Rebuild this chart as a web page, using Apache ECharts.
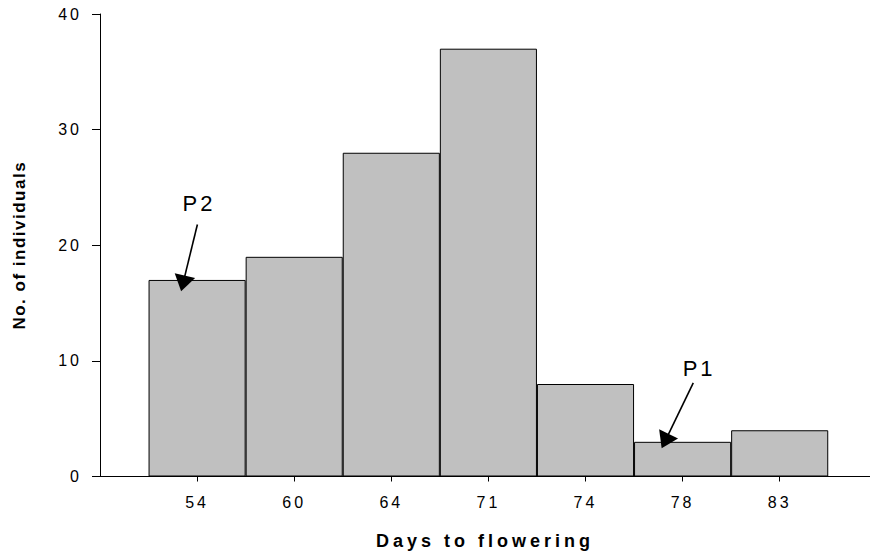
<!DOCTYPE html>
<html>
<head>
<meta charset="utf-8">
<script src="https://cdn.jsdelivr.net/npm/echarts@6/dist/echarts.min.js"></script>
<style>
  html, body { margin: 0; padding: 0; background: #fff; }
  #chart { width: 870px; height: 560px; }
</style>
</head>
<body>
<div id="chart"></div>
<script>
// flowering-time classes and counts
const days = ["54", "60", "64", "71", "74", "78", "83"];
const counts = [17, 19, 28, 37, 8, 3, 4];

// parent annotations, in axis units (x = class index, y = count)
const parentNames = ["P2", "P1"];
const arrowFrom = [[0.003, 21.8], [5.11, 8.1]];
const arrowTo = [[-0.145, 16.7], [4.82, 3.06]];
const nameAt = [[0.02, 23.65], [5.17, 9.3]];

const FONT = "Liberation Sans, Arial, sans-serif";
const X_NAME = "Days to flowering";
const Y_NAME = "No. of individuals";

const chart = echarts.init(document.getElementById("chart"), null, { renderer: "svg" });

chart.setOption({
  animation: false,
  grid: { left: 100, right: 0, top: 14, bottom: 83.5, containLabel: false, outerBoundsMode: "none" },
  xAxis: {
    type: "value",
    min: -1,
    max: 6.93,
    interval: 1,
    name: X_NAME,
    nameLocation: "middle",
    nameGap: 55,
    nameTextStyle: { fontFamily: FONT, fontSize: 18, fontWeight: "bold", color: "#000" },
    axisLine: { show: true, onZero: false, lineStyle: { color: "#000", width: 1 } },
    axisTick: { show: true, length: 5, customValues: days.map((d, i) => i), lineStyle: { color: "#000" } },
    axisLabel: {
      customValues: days.map((d, i) => i),
      formatter: (v) => days[v] || "",
      margin: 18,
      fontFamily: FONT, fontSize: 16, color: "#000",
    },
    splitLine: { show: false },
  },
  yAxis: {
    type: "value",
    min: 0,
    max: 40,
    interval: 10,
    name: Y_NAME,
    nameLocation: "middle",
    nameGap: 72,
    nameTextStyle: { fontFamily: FONT, fontSize: 17, fontWeight: "bold", color: "#000" },
    axisLine: { show: true, onZero: false, lineStyle: { color: "#000", width: 1 } },
    axisTick: { show: true, length: 8, lineStyle: { color: "#000" } },
    axisLabel: { margin: 18, fontFamily: FONT, fontSize: 16, color: "#000" },
    splitLine: { show: false },
  },
  series: [
    {
      type: "bar",
      barWidth: "100%",
      data: counts.map((c, i) => [i, c]),
      itemStyle: { color: "#c0c0c0", borderColor: "#000", borderWidth: 1 },
      silent: true,
      markLine: {
        silent: true,
        symbol: ["none", "triangle"],
        symbolSize: [21, 16],
        label: { show: false },
        lineStyle: { color: "#000", width: 1.6, type: "solid" },
        data: arrowFrom.map((p, i) => [{ coord: p }, { coord: arrowTo[i] }]),
      },
      markPoint: {
        silent: true,
        symbol: "circle",
        symbolSize: 1,
        itemStyle: { color: "rgba(0,0,0,0)" },
        label: {
          show: true,
          position: "inside",
          fontFamily: FONT,
          fontSize: 22,
          color: "#000",
          formatter: (p) => p.name,
        },
        data: nameAt.map((p, i) => ({ name: parentNames[i], coord: p })),
      },
    },
  ],
});

// the original uses widely tracked lettering
const spaceText = () => {
  document.querySelectorAll("#chart text").forEach((t) => {
    const s = t.textContent;
    if (s === X_NAME) t.style.letterSpacing = "4px";
    else if (s === Y_NAME) t.style.letterSpacing = "1.5px";
    else if (parentNames.includes(s)) t.style.letterSpacing = "3px";
    else t.style.letterSpacing = "3px";
  });
};
chart.on("finished", spaceText);
spaceText();
</script>
</body>
</html>
